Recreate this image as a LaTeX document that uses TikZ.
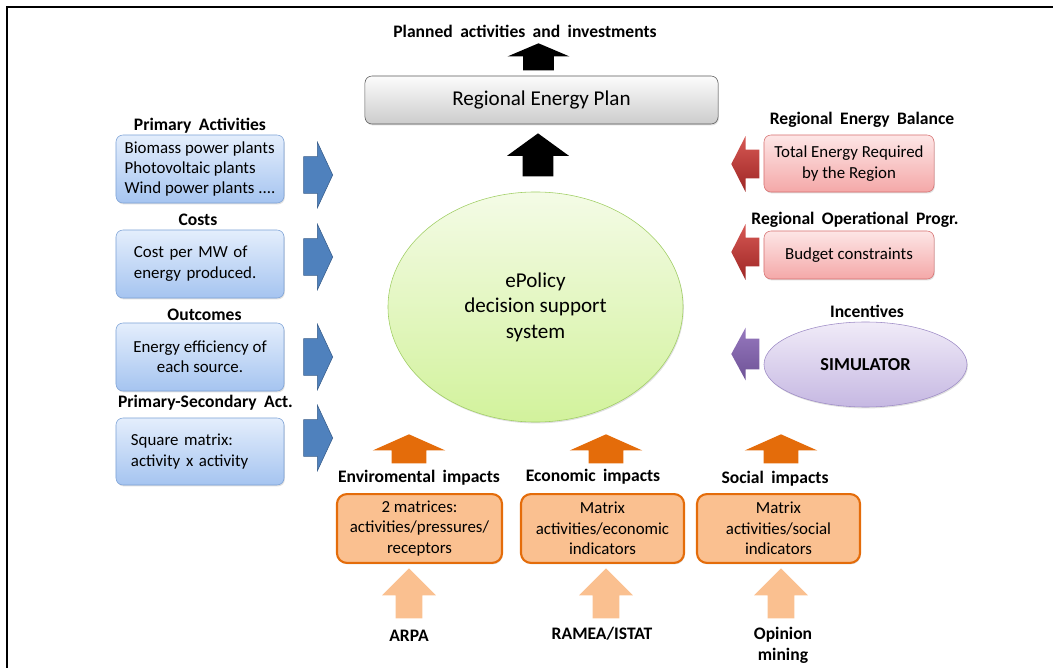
\documentclass[tikz,border=0pt]{standalone}
\usepackage{fontspec}
\setmainfont{Carlito}
\usetikzlibrary{shapes,arrows,positioning,calc,shadows}
\usepackage{xcolor}

\definecolor{inT}{RGB}{228,238,252}
\definecolor{inB}{RGB}{165,196,240}
\definecolor{inD}{RGB}{125,162,214}
\definecolor{inArrow}{RGB}{79,129,189}
\definecolor{inArrowD}{RGB}{56,93,138}
\definecolor{redT}{RGB}{253,230,230}
\definecolor{redB}{RGB}{244,168,168}
\definecolor{redD}{RGB}{214,112,112}
\definecolor{redArT}{RGB}{214,88,84}
\definecolor{redArB}{RGB}{158,38,36}
\definecolor{simT}{RGB}{240,235,248}
\definecolor{simB}{RGB}{198,184,226}
\definecolor{simD}{RGB}{158,140,198}
\definecolor{simArT}{RGB}{150,120,190}
\definecolor{simArB}{RGB}{110,82,150}
\definecolor{dssT}{RGB}{244,251,230}
\definecolor{dssB}{RGB}{210,242,156}
\definecolor{dssD}{RGB}{160,206,100}
\definecolor{planT}{RGB}{252,252,252}
\definecolor{planB}{RGB}{204,204,204}
\definecolor{impFill}{RGB}{250,192,144}
\definecolor{impDraw}{RGB}{228,108,10}

\begin{document}
\begin{tikzpicture}[x=0.025cm, y=-0.025cm,
    txt/.style={font=\fontsize{12}{14.4}\selectfont},
    head/.style={font={\bfseries\fontsize{12.5}{15}\selectfont\spaceskip=0.42em plus 0.1em\relax}, align=center},
    shad/.style={drop shadow={opacity=0.25, shadow xshift=0.6pt, shadow yshift=-1pt}},
    box/.style={rectangle, txt, rounded corners=5pt, inner sep=2pt, shad},
    inbox/.style={box, draw=inD, top color=inT, bottom color=inB, minimum width=4.2cm, minimum height=1.7cm},
    redbox/.style={box, draw=redD, top color=redT, bottom color=redB, minimum width=4.25cm, align=center},
    impbox/.style={box, draw=impDraw, line width=1.5pt, fill=impFill, rounded corners=7pt, minimum width=4.075cm, minimum height=1.72cm, align=center},
    blk/.style={single arrow, draw=none, inner xsep=0pt, anchor=tip},
    upblk/.style={single arrow, draw=none, inner ysep=0pt, anchor=tip, shape border rotate=90},
    toparrow/.style={upblk, fill=black, inner xsep=0.375cm, single arrow head extend=0.39cm},
    inarrow/.style={blk, draw=inArrowD, fill=inArrow, inner ysep=0.45cm, minimum height=0.725cm, single arrow head extend=0.36cm, single arrow tip angle=130},
    redarrow/.style={blk, shape border rotate=180, top color=redArT, bottom color=redArB, inner ysep=0.35cm, minimum height=0.7cm, single arrow head extend=0.34cm, single arrow tip angle=126},
    simarrow/.style={blk, shape border rotate=180, top color=simArT, bottom color=simArB, inner ysep=0.375cm, minimum height=0.7cm, single arrow head extend=0.275cm, single arrow tip angle=123},
    imparrow/.style={upblk, fill=impDraw, inner xsep=0.425cm, minimum height=0.725cm, single arrow head extend=0.475cm, single arrow tip angle=132},
    srcarrow/.style={upblk, fill=impFill, inner xsep=0.325cm, minimum height=1.25cm, single arrow head extend=0.34cm, single arrow tip angle=90}
]

\useasboundingbox (0,0) rectangle (1053,668);
\draw[line width=1.4pt] (7,668) -- (7,7) -- (1053,7);

% Plan and output
\node[head] (planned) at (525,31) {Planned activities and investments};
\node[toparrow, minimum height=0.675cm, single arrow tip angle=134] (out) at (538.5,43) {};
\node[box, draw=gray!70!black, top color=planT, bottom color=planB, minimum width=8.825cm, minimum height=1.2cm, font=\fontsize{15}{18}\selectfont] (plan) at (541.5,100) {Regional Energy Plan};
\node[toparrow, minimum height=1.075cm, single arrow tip angle=108] (toplan) at (538,133) {};

% Central
\node[ellipse, draw=dssD, top color=dssT, bottom color=dssB, minimum width=7.375cm, minimum height=5.75cm, inner sep=0pt, align=center, font=\fontsize{15}{18.2}\selectfont, shad] (dss) at (535.5,307) {ePolicy\\decision support\\system};

% Inputs on the left
\node[head] (lblact) at (200,126) {Primary Activities};
\node[inbox, align=left] (act) at (200,169) {Biomass power plants\\Photovoltaic plants\\Wind power plants ....};
\node[head] (lblcost) at (198,220) {Costs};
\node[inbox, text width=3.3cm, text depth=0.6cm, align=left] (cost) at (200,264) {Cost per MW of\\energy produced.};
\node[head] (lblout) at (204.5,315) {Outcomes};
\node[inbox, align=center] (outc) at (200,357) {Energy efficiency of\\each source.};
\node[head] (lblps) at (205.5,403) {Primary-Secondary Act.};
\node[inbox, text width=3.45cm, align=left, minimum height=1.675cm] (psa) at (200,451.5) {Square matrix:\\activity x activity};

\foreach \y/\n in {175/1,257/2,357/3,438/4} {
    \node[inarrow] (in\n) at (333,\y) {};
}

% Inputs on the right
\node[head] (lblbal) at (862,120) {Regional Energy Balance};
\node[redbox, minimum height=1.425cm] (bal) at (849,163.5) {Total Energy Required\\by the Region};
\node[redarrow] (rin1) at (731,164) {};
\node[head] (lblrop) at (855,220) {Regional Operational Progr.};
\node[redbox, minimum height=1.2cm] (rop) at (849,255) {Budget constraints};
\node[redarrow] (rin2) at (731,252) {};
\node[head] (lblinc) at (867,311) {Incentives};
\node[ellipse, draw=simD, top color=simT, bottom color=simB, minimum width=5.075cm, minimum height=2.125cm, inner sep=0pt, font=\bfseries\fontsize{13}{15}\selectfont, shad] (sim) at (865.5,364.5) {SIMULATOR};
\node[simarrow] (sin) at (731,354) {};

% Impacts
\foreach \x/\n in {409/1,606/2,781/3} {
    \node[imparrow] (imp\n) at (\x,434) {};
    \node[srcarrow] (src\n) at (\x,568) {};
}
\node[head] (lblenv) at (419,478) {Enviromental impacts};
\node[head] (lbleco) at (593,477) {Economic impacts};
\node[head] (lblsoc) at (775,479) {Social impacts};
\node[impbox, minimum width=4.125cm] (env) at (419.5,528.5) {2 matrices:\\activities/pressures/\\receptors};
\node[impbox] (eco) at (602.5,528.5) {Matrix\\activities/economic\\indicators};
\node[impbox] (soc) at (778.5,528.5) {Matrix\\activities/social\\indicators};
\node[head] (arpa) at (409,636) {ARPA};
\node[head] (ramea) at (602,634) {RAMEA/ISTAT};
\node[head] (opin) at (783,645) {Opinion\\mining};

\end{tikzpicture}
\end{document}
